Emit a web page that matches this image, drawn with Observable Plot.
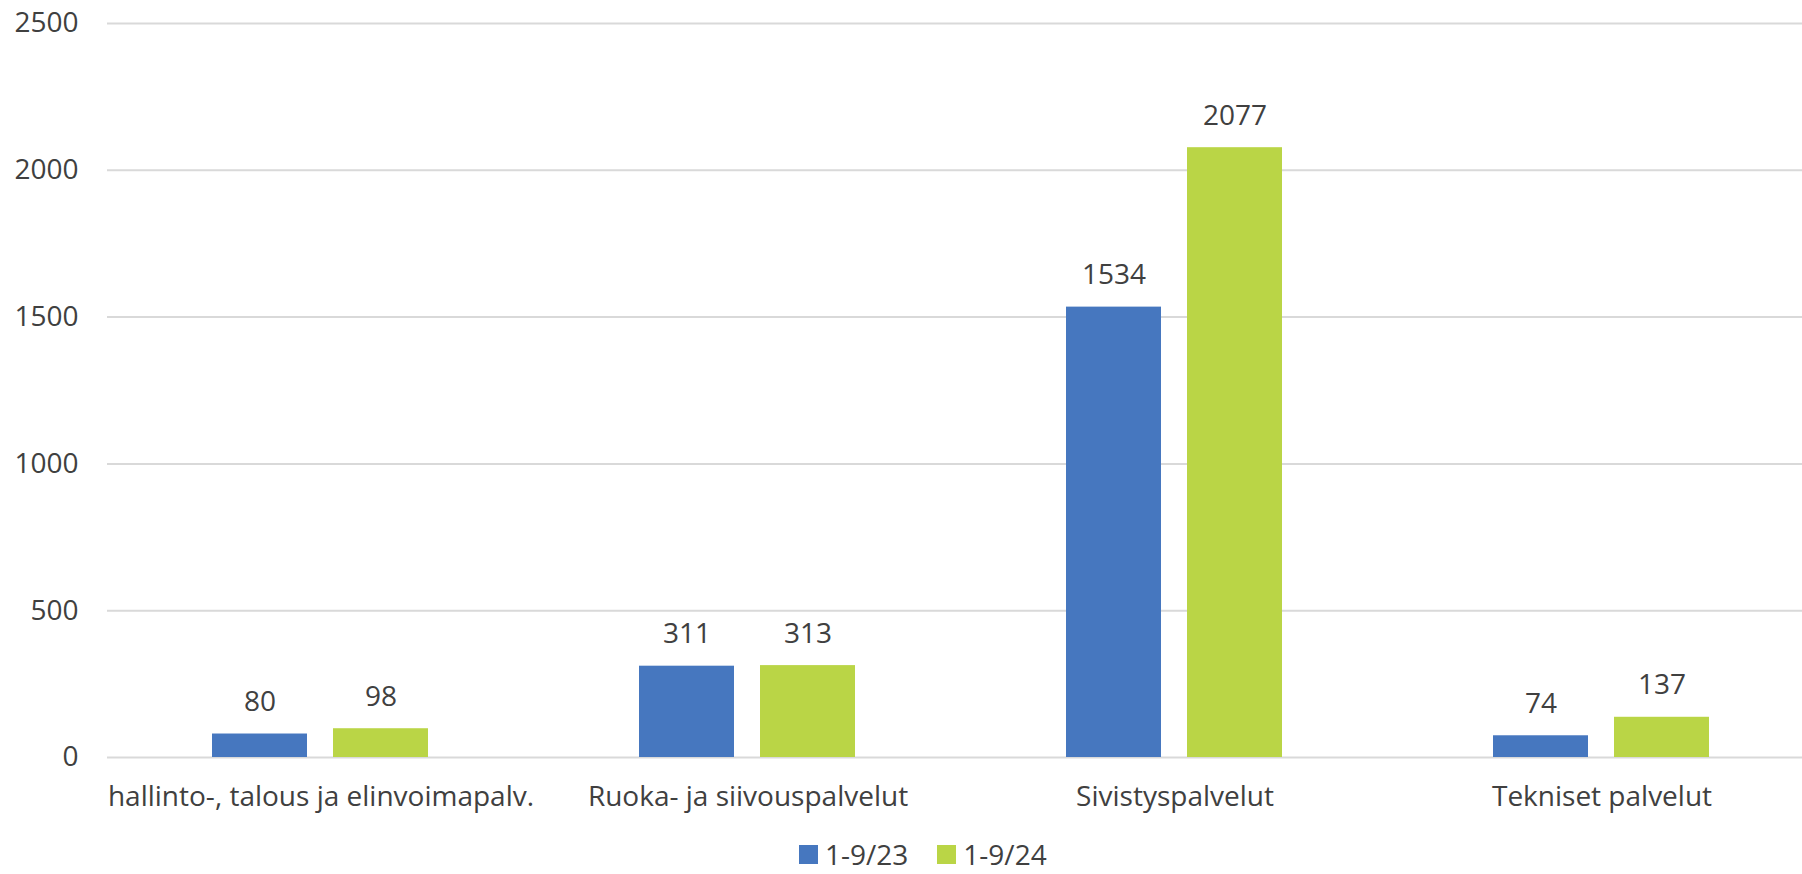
<!DOCTYPE html>
<html>
<head>
<meta charset="utf-8">
<script src="https://cdn.jsdelivr.net/npm/d3@7"></script>
<script src="https://cdn.jsdelivr.net/npm/@observablehq/plot@0.6"></script>
<style>
  html, body { margin: 0; padding: 0; background: #ffffff; }
  #wrap { position: relative; width: 1802px; height: 874px; overflow: hidden; font-family: "Open Sans", Lato, sans-serif; color: #404040; }
  #legend { position: absolute; top: 839px; left: 799px; display: flex; align-items: center; font-size: 28px; line-height: 30px; }
  .item { display: flex; align-items: center; margin-right: 29px; }
  .sw { width: 19px; height: 19px; margin-right: 7px; }
</style>
</head>
<body>
<div id="wrap"><div id="chart"></div><div id="legend"></div></div>
<script>
const categories = ["hallinto-, talous ja elinvoimapalv.", "Ruoka- ja siivouspalvelut", "Sivistyspalvelut", "Tekniset palvelut"];
const series = ["1-9/23", "1-9/24"];
const values2023 = [80, 311, 1534, 74];
const values2024 = [98, 313, 2077, 137];
const yTicks = [0, 500, 1000, 1500, 2000, 2500];
const colors = ["#4677BF", "#BAD546"];

const data = [];
categories.forEach((c, i) => {
  data.push({category: c, series: series[0], value: values2023[i]});
  data.push({category: c, series: series[1], value: values2024[i]});
});

const chart = Plot.plot({
  width: 1802,
  height: 836,
  marginLeft: 106,
  marginRight: 0,
  marginTop: 23,
  marginBottom: 79,
  style: {fontFamily: "'Open Sans', Lato, sans-serif", fontSize: "28px", color: "#404040", background: "white", overflow: "visible"},
  fx: {domain: categories, range: [106.3, 1815.7], padding: 0, label: null, axis: "bottom", tickSize: 0, tickPadding: 29},
  x: {domain: series, paddingInner: 0.213, paddingOuter: 0.857, axis: null},
  y: {domain: [0, 2500], ticks: yTicks, tickFormat: d => String(d), tickSize: 0, tickPadding: 29, label: null},
  color: {domain: series, range: colors},
  marks: [
    Plot.ruleY(yTicks, {stroke: "#d9d9d9", strokeWidth: 2}),
    Plot.barY(data, {fx: "category", x: "series", y: "value", fill: "series"}),
    Plot.text(data, {fx: "category", x: "series", y: "value", text: d => String(d.value), dy: -32, fill: "#404040"})
  ]
});
document.getElementById("chart").appendChild(chart);

const legend = document.getElementById("legend");
series.forEach((s, i) => {
  const item = document.createElement("div");
  item.className = "item";
  const sw = document.createElement("div");
  sw.className = "sw";
  sw.style.background = colors[i];
  const t = document.createElement("span");
  t.textContent = s;
  item.appendChild(sw);
  item.appendChild(t);
  legend.appendChild(item);
});
</script>
</body>
</html>
